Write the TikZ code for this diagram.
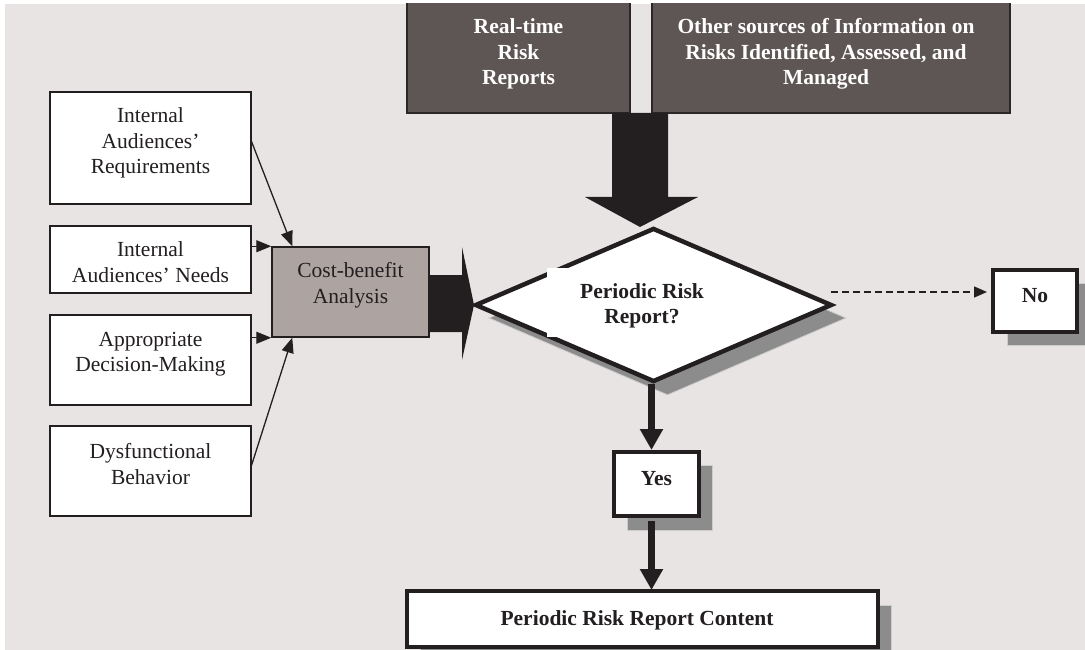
\documentclass[tikz,border=0pt]{standalone}
\usepackage{fontspec}
\setmainfont{Liberation Serif}
\usetikzlibrary{arrows.meta,shapes.geometric,calc}

\definecolor{bgc}{HTML}{E8E4E3}
\definecolor{darkbox}{HTML}{5E5654}
\definecolor{darkline}{HTML}{2B2627}
\definecolor{cbfill}{HTML}{ADA4A2}
\definecolor{ink}{HTML}{231F20}
\definecolor{shade}{HTML}{8C8C8C}

\tikzset{
  plainbox/.style={draw=ink, line width=1.5pt, fill=white, rectangle,
    inner sep=0pt, outer sep=0pt},
  heavybox/.style={draw=ink, line width=3.5pt, fill=white, rectangle,
    inner sep=0pt, outer sep=0pt},
  sourcebox/.style={draw=darkline, line width=2pt, fill=darkbox, rectangle,
    inner sep=0pt, outer sep=0pt},
  shadowbox/.style={fill=shade, draw=gray!40, line width=0.8pt},
  boxtext/.style={text=ink, align=center, inner sep=0pt},
  boldtext/.style={text=ink, align=center, inner sep=0pt, font=\fontsize{21.5}{25.5}\selectfont\bfseries},
  sourcetext/.style={text=white, align=center, inner sep=0pt, font=\fontsize{21.5}{25.5}\selectfont\bfseries},
  thinarrow/.style={draw=ink, line width=1.3pt, -{Triangle[length=15pt,width=12pt]}},
  thickarrow/.style={draw=ink, line width=6.5pt, -{Triangle[length=21pt,width=22pt]}},
  dasharrow/.style={draw=ink, line width=1.5pt, dash pattern=on 7pt off 4pt,
    -{Triangle[length=13pt,width=11pt]}},
  blockarrow/.style={fill=ink, draw=none},
}

\begin{document}
\begin{tikzpicture}[x=1pt, y=-1pt, font=\fontsize{21.5}{25.5}\selectfont]
\useasboundingbox (0,0) rectangle (1085,650);
\fill[white] (0,0) rectangle (1085,650);
\fill[bgc] (5,4) rectangle (1085,650);

\begin{scope}
\clip (5,4) rectangle (1085,650);

% information sources along the top
\node[sourcebox, minimum width=223pt, minimum height=123pt] (rt) at (518.5,51.5) {};
\node[sourcebox, minimum width=358pt, minimum height=123pt] (os) at (831,51.5) {};
\node[sourcetext] (rtlabel) at (518.5,54) {Real-time\\Risk\\Reports};
\node[sourcetext] (oslabel) at (826,54) {Other sources of Information on\\Risks Identified, Assessed, and\\Managed};

% block arrow feeding the decision
\fill[blockarrow] (612,113) -- (668,113) -- (668,197) -- (698,197) -- (640,227)
  -- (585,197) -- (612,197) -- cycle;

% left-hand inputs
\node[plainbox, minimum width=201pt, minimum height=112pt] (b1) at (150.5,148) {};
\node[plainbox, minimum width=201pt, minimum height=67pt] (b2) at (150.5,259.5) {};
\node[plainbox, minimum width=201pt, minimum height=90pt] (b3) at (150.5,360) {};
\node[plainbox, minimum width=201pt, minimum height=90pt] (b4) at (150.5,471) {};
\node[boxtext] (t1) at (150.5,143) {Internal\\Audiences’\\Requirements};
\node[boxtext] (t2) at (150.5,262) {Internal\\Audiences’ Needs};
\node[boxtext] (t3) at (150.5,354) {Appropriate\\Decision-Making};
\node[boxtext] (t4) at (150.5,464) {Dysfunctional\\Behavior};

% cost-benefit analysis
\node[draw=ink, line width=1.5pt, fill=cbfill, rectangle, inner sep=0pt,
  minimum width=157pt, minimum height=90pt] (cb) at (350.5,292) {};
\node[boxtext] (cbtext) at (350.5,285) {Cost-benefit\\Analysis};

\draw[thinarrow] ($(b1.north east)!0.43!(b1.south east)$) -- ($(cb.north west)+(21,0)$);
\draw[thinarrow] (b2.east |- cb.north west) -- (cb.north west);
\draw[thinarrow] (b3.east |- cb.south west) -- (cb.south west);
\draw[thinarrow] ($(b4.east)+(0,-4)$) -- ($(cb.south west)+(21,0)$);

% block arrow into the decision
\fill[blockarrow] (429,275) -- (462,275) -- (462,247) -- (474,305) -- (462,360)
  -- (462,332) -- (429,332) -- cycle;

% decision diamond with its shadow
\node[diamond, fill=shade, draw=gray!40, line width=0.8pt, inner sep=0pt,
  minimum width=357pt, minimum height=154pt] (diashadow) at (667.5,318) {};
\node[diamond, fill=white, draw=ink, line width=4.5pt, inner sep=0pt,
  minimum width=357pt, minimum height=154pt] (dia) at (653.5,305) {};
\fill[white] (547,268) rectangle (740,337);
\node[boldtext] (diatext) at (642,306) {Periodic Risk\\Report?};

% "No" outcome
\fill[shadowbox] (1007,283) rectangle (1091,345);
\node[heavybox, minimum width=84pt, minimum height=62pt] (no) at (1035,301) {};
\node[boldtext] (notext) at (1035,296) {No};
\draw[dasharrow] ($(dia.east)+(-3,-13)$) -- ($(no.west)+(-6,-9)$);

% "Yes" outcome
\fill[shadowbox] (627,465) rectangle (712,530);
\node[heavybox, minimum width=85pt, minimum height=64pt] (yes) at (656.5,484) {};
\node[boldtext] (yestext) at (656.5,479) {Yes};
\draw[thickarrow] ($(dia.south)+(-2,0)$) -- ($(dia.south |- yes.north)+(-2,-2)$);

% report content
\fill[shadowbox] (420,605) rectangle (891,662);
\node[heavybox, minimum width=471pt, minimum height=56pt] (content) at (642.5,619) {};
\node[boldtext] (contenttext) at (637,620) {Periodic Risk Report Content};
\draw[thickarrow] ($(dia.south |- yes.south)+(-2,5)$) -- ($(dia.south |- content.north)+(-2,-1)$);
\end{scope}
\end{tikzpicture}
\end{document}
